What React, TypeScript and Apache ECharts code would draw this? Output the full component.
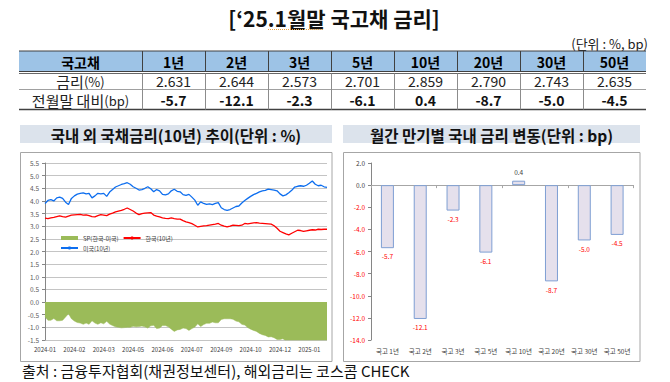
import React, { useEffect, useRef } from "react";
import * as echarts from "echarts";

// ---- table data ----
const tenors = ["1년", "2년", "3년", "5년", "10년", "20년", "30년", "50년"];
const rates = [2.631, 2.644, 2.573, 2.701, 2.859, 2.79, 2.743, 2.635];
const changes = [-5.7, -12.1, -2.3, -6.1, 0.4, -8.7, -5.0, -4.5];

// ---- right chart ----
const barCategories = ["국고 1년", "국고 2년", "국고 3년", "국고 5년", "국고 10년", "국고 20년", "국고 30년", "국고 50년"];

// ---- left chart ----
const dates = [
  "2024-01-02","2024-01-05","2024-01-09","2024-01-12","2024-01-17","2024-01-22","2024-01-25","2024-01-30","2024-02-02","2024-02-07",
  "2024-02-14","2024-02-19","2024-02-22","2024-02-27","2024-03-04","2024-03-07","2024-03-12","2024-03-15","2024-03-20","2024-03-25",
  "2024-03-28","2024-04-02","2024-04-05","2024-04-09","2024-04-12","2024-04-17","2024-04-22","2024-04-25","2024-04-30","2024-05-03",
  "2024-05-08","2024-05-13","2024-05-17","2024-05-22","2024-05-27","2024-05-30","2024-06-04","2024-06-07","2024-06-12","2024-06-17",
  "2024-06-19","2024-06-24","2024-06-27","2024-07-02","2024-07-05","2024-07-10","2024-07-15","2024-07-18","2024-07-23","2024-07-26",
  "2024-07-30","2024-08-02","2024-08-06","2024-08-09","2024-08-14","2024-08-20","2024-08-23","2024-08-28","2024-08-30","2024-09-04",
  "2024-09-09","2024-09-12","2024-09-20","2024-09-25","2024-09-30","2024-10-04","2024-10-08","2024-10-11","2024-10-15","2024-10-18",
  "2024-10-21","2024-10-24","2024-10-29","2024-11-01","2024-11-06","2024-11-11","2024-11-14","2024-11-19","2024-11-22","2024-11-27",
  "2024-12-02","2024-12-05","2024-12-10","2024-12-13","2024-12-18","2024-12-23","2024-12-27","2024-12-31","2025-01-03","2025-01-08",
  "2025-01-13","2025-01-15","2025-01-17","2025-01-21","2025-01-23","2025-01-24","2025-01-31",
];
const usRates = [
  3.90,4.02,4.05,4.00,4.12,4.15,4.10,3.95,3.86,4.10,
  4.20,4.27,4.30,4.32,4.28,4.30,4.12,4.20,4.30,4.28,
  4.30,4.18,4.35,4.45,4.55,4.60,4.65,4.68,4.72,4.66,
  4.56,4.50,4.43,4.45,4.50,4.56,4.48,4.36,4.45,4.40,
  4.26,4.24,4.28,4.40,4.46,4.38,4.36,4.25,4.22,4.26,
  4.15,4.03,3.83,3.96,3.90,3.86,3.88,3.85,3.90,3.93,
  3.73,3.66,3.63,3.66,3.72,3.78,3.80,3.92,4.02,4.10,
  4.18,4.25,4.30,4.36,4.40,4.42,4.47,4.45,4.43,4.40,
  4.28,4.20,4.24,4.32,4.42,4.55,4.58,4.60,4.58,4.62,
  4.70,4.79,4.66,4.60,4.62,4.56,4.54,
];
const krRates = [
  3.32,3.30,3.33,3.35,3.38,3.41,3.38,3.36,3.40,3.44,
  3.45,3.46,3.47,3.44,3.45,3.42,3.38,3.37,3.42,3.46,
  3.44,3.42,3.48,3.52,3.57,3.60,3.63,3.67,3.72,3.66,
  3.60,3.52,3.46,3.50,3.52,3.53,3.54,3.44,3.40,3.37,
  3.33,3.31,3.30,3.33,3.30,3.28,3.28,3.22,3.17,3.14,
  3.10,3.04,2.97,2.99,3.01,3.02,3.04,3.06,3.08,3.11,
  3.04,3.00,2.97,3.00,3.04,3.03,3.02,3.04,3.11,3.09,
  3.11,3.13,3.14,3.12,3.11,3.10,3.09,3.08,3.02,2.92,
  2.80,2.75,2.70,2.66,2.72,2.78,2.84,2.83,2.80,2.82,
  2.84,2.86,2.85,2.88,2.87,2.88,2.88,
];
const spread = [
  -0.58,-0.72,-0.72,-0.65,-0.74,-0.74,-0.72,-0.59,-0.46,-0.66,
  -0.75,-0.81,-0.83,-0.88,-0.83,-0.88,-0.74,-0.83,-0.88,-0.82,
  -0.86,-0.76,-0.87,-0.93,-0.98,-1.00,-1.02,-1.01,-1.00,-1.00,
  -0.96,-0.98,-0.97,-0.95,-0.98,-1.03,-0.94,-0.92,-1.05,-1.03,
  -0.93,-0.93,-0.98,-1.07,-1.16,-1.10,-1.08,-1.03,-1.05,-1.12,
  -1.05,-0.99,-0.86,-0.97,-0.89,-0.84,-0.84,-0.79,-0.82,-0.82,
  -0.69,-0.66,-0.66,-0.66,-0.68,-0.75,-0.78,-0.88,-0.91,-1.01,
  -1.07,-1.12,-1.16,-1.24,-1.29,-1.32,-1.38,-1.37,-1.41,-1.48,
  -1.48,-1.45,-1.54,-1.66,-1.70,-1.77,-1.74,-1.77,-1.78,-1.80,
  -1.86,-1.93,-1.81,-1.72,-1.75,-1.68,-1.66,
];

const F = "Noto Sans CJK KR";

function text(x: number, y: number, t: string, size: number, opts: any = {}) {
  const align = opts.align || "center";
  return {
    type: "text",
    silent: true,
    style: {
      x,
      y,
      text: t,
      fontSize: size,
      fontFamily: F,
      fontWeight: opts.bold ? "bold" : "normal",
      fill: opts.color || "#000",
      align,
      verticalAlign: "middle",
      textAlign: align,
      textVerticalAlign: "middle",
      rich: opts.rich,
    },
  };
}
function line(x1: number, y1: number, x2: number, y2: number, stroke: string, lw = 1, dash?: number[]) {
  return { type: "line", silent: true, shape: { x1, y1, x2, y2 }, style: { stroke, lineWidth: lw, lineDash: dash } };
}

export default function App() {
  const ref = useRef<HTMLDivElement>(null);
  useEffect(() => {
    if (!ref.current) return;
    const chart = echarts.init(ref.current, undefined, { renderer: "svg" });

    const TL = 19, TR = 646, C0 = 142;
    const colW = (TR - C0) / tenors.length;
    const g: any[] = [];
    // title
    g.push(text(334, 18, "[‘25.1월말 국고채 금리]", 21, { bold: true, color: "#111" }));
    g.push(line(268, 29.5, 324, 29.5, "#E8A040", 1, [1, 1]));
    g.push(text(648, 43, "(단위 : %, bp)", 13, { align: "right", color: "#222" }));
    // table
    g.push({ type: "rect", silent: true, shape: { x: TL, y: 51, width: TR - TL, height: 20.5 }, style: { fill: "#9DC3E6" } });
    g.push(line(TL, 51, TR, 51, "#404040", 1));
    g.push(line(TL, 71.5, TR, 71.5, "#404040", 1));
    g.push(line(TL, 73.5, TR, 73.5, "#404040", 0.8));
    g.push(line(TL, 89.5, TR, 89.5, "#A0A0A0", 1));
    g.push(line(TL, 109.5, TR, 109.5, "#404040", 1.5));
    for (let k = 0; k < tenors.length; k++) {
      const xs = Math.round(C0 + k * colW) + 0.5;
      g.push(line(xs, 51, xs, 71.5, "#404040", 1));
      g.push(line(xs, 73.5, xs, 109.5, "#8C8C8C", 1));
    }
    g.push(text((TL + C0) / 2, 61.5, "국고채", 14, { bold: true }));
    g.push(
      text((TL + C0) / 2, 81, "{a|금리}{b|(%)}", 15, {
        rich: { a: { fontSize: 15, fontFamily: F, fill: "#222" }, b: { fontSize: 13, fontFamily: F, fill: "#222" } },
      })
    );
    g.push(
      text((TL + C0) / 2, 100, "{a|전월말 대비}{b|(bp)}", 15, {
        rich: { a: { fontSize: 15, fontFamily: F, fill: "#222" }, b: { fontSize: 13, fontFamily: F, fill: "#222" } },
      })
    );
    tenors.forEach((t, i) => {
      const cx = C0 + (i + 0.5) * colW;
      g.push(text(cx, 61.5, t, 14, { bold: true }));
      g.push(text(cx, 81, rates[i].toFixed(3), 14, { color: "#222" }));
      g.push(text(cx, 100, changes[i].toFixed(1), 14, { bold: true, color: "#111" }));
    });
    // chart title bands and boxes
    g.push({ type: "rect", silent: true, shape: { x: 20, y: 125, width: 312, height: 18 }, style: { fill: "#DCE3EC" } });
    g.push({ type: "rect", silent: true, shape: { x: 343, y: 125, width: 297, height: 18 }, style: { fill: "#DCE3EC" } });
    g.push(text(176, 134.5, "국내 외 국채금리(10년) 추이(단위 : %)", 15.5, { bold: true, color: "#111" }));
    g.push(text(491.5, 134.5, "월간 만기별 국내 금리 변동(단위 : bp)", 15.5, { bold: true, color: "#111" }));
    g.push({ type: "rect", silent: true, shape: { x: 20.5, y: 152.5, width: 311.5, height: 209 }, style: { fill: "none", stroke: "#A6A6A6", lineWidth: 1 } });
    g.push({ type: "rect", silent: true, shape: { x: 343.5, y: 152.5, width: 296.5, height: 209 }, style: { fill: "none", stroke: "#A6A6A6", lineWidth: 1 } });
    // footer
    g.push(text(22, 370, "출처 : 금융투자협회(채권정보센터), 해외금리는 코스콤 CHECK", 15, { align: "left", color: "#111" }));

    const axisGray = "#868686";
    const labelGray = "#404040";

    chart.setOption({
      animation: false,
      textStyle: { fontFamily: F },
      graphic: g,
      legend: {
        data: [{ name: "SP(한국-미국)", icon: "rect" }, { name: "한국(10년)" }, { name: "미국(10년)" }],
        left: 60,
        top: 235,
        width: 125,
        padding: 0,
        itemWidth: 17,
        itemHeight: 4,
        itemGap: 4,
        textStyle: { fontSize: 6, color: labelGray, fontFamily: F },
      },
      grid: [
        { left: 45, right: 343, top: 163, bottom: 42 },
        { left: 371, right: 36.5, top: 163, bottom: 42 },
      ],
      xAxis: [
        {
          type: "category",
          gridIndex: 0,
          data: dates,
          boundaryGap: false,
          axisLine: { show: false, onZero: false },
          axisTick: { show: false },
          axisLabel: {
            interval: 9,
            fontSize: 6,
            color: labelGray,
            margin: 6,
            formatter: (v: string) => v.slice(0, 7),
          },
        },
        {
          type: "category",
          gridIndex: 1,
          data: barCategories,
          position: "bottom",
          axisLine: { show: false, onZero: false },
          axisTick: { show: false },
          axisLabel: { interval: 0, fontSize: 6.5, color: labelGray, margin: 8 },
        },
        {
          type: "category",
          gridIndex: 1,
          data: barCategories,
          position: "top",
          axisLine: { show: true, onZero: true, lineStyle: { color: "#A6A6A6", width: 1 } },
          axisTick: { show: true, inside: true, length: 3, lineStyle: { color: "#A6A6A6" } },
          axisLabel: { show: false },
        },
      ],
      yAxis: [
        {
          type: "value",
          gridIndex: 0,
          min: -1.5,
          max: 5.5,
          interval: 0.5,
          axisLine: { show: true, lineStyle: { color: axisGray } },
          axisTick: { show: true, length: 3, lineStyle: { color: axisGray } },
          splitLine: { show: true, lineStyle: { color: "#C4C4C4", width: 1 } },
          axisLabel: { fontSize: 6.5, color: "#595959", margin: 6, formatter: (v: number) => v.toFixed(1) },
        },
        {
          type: "value",
          gridIndex: 1,
          min: -14,
          max: 2,
          interval: 2,
          axisLine: { show: true, lineStyle: { color: axisGray } },
          axisTick: { show: true, length: 3, lineStyle: { color: axisGray } },
          splitLine: { show: false },
          axisLabel: {
            fontSize: 6.5,
            margin: 6,
            formatter: (v: number) => v.toFixed(1),
            color: (v: any) => (parseFloat(v) < 0 ? "#FF0000" : labelGray),
          },
        },
      ],
      series: [
        {
          name: "SP(한국-미국)",
          type: "line",
          xAxisIndex: 0,
          yAxisIndex: 0,
          data: spread,
          symbol: "none",
          lineStyle: { color: "#9BBB59", width: 0.5 },
          itemStyle: { color: "#9BBB59" },
          areaStyle: { color: "#9BBB59", opacity: 1 },
          z: 1,
        },
        {
          name: "한국(10년)",
          type: "line",
          xAxisIndex: 0,
          yAxisIndex: 0,
          data: krRates,
          symbol: "none",
          lineStyle: { color: "#FF0000", width: 1.3 },
          itemStyle: { color: "#FF0000" },
          z: 3,
        },
        {
          name: "미국(10년)",
          type: "line",
          xAxisIndex: 0,
          yAxisIndex: 0,
          data: usRates,
          symbol: "none",
          lineStyle: { color: "#0D6EEF", width: 1.3 },
          itemStyle: { color: "#0D6EEF" },
          z: 3,
        },
        {
          name: "변동",
          type: "bar",
          xAxisIndex: 1,
          yAxisIndex: 1,
          barWidth: 13,
          data: changes.map((v) => ({
            value: v,
            label: { position: v >= 0 ? "top" : "bottom", color: v >= 0 ? labelGray : "#FF0000" },
          })),
          itemStyle: { color: "#E5E0EC", borderColor: "#7F9FD3", borderWidth: 1 },
          label: {
            show: true,
            distance: 5,
            fontSize: 6.5,
            fontFamily: F,
            formatter: (p: any) => Number(p.value).toFixed(1),
          },
        },
      ],
    });
    return () => chart.dispose();
  }, []);
  return (
    <div
      ref={ref}
      style={{ position: "fixed", left: 0, top: 0, width: 670, height: 382, background: "#fff" }}
    />
  );
}
